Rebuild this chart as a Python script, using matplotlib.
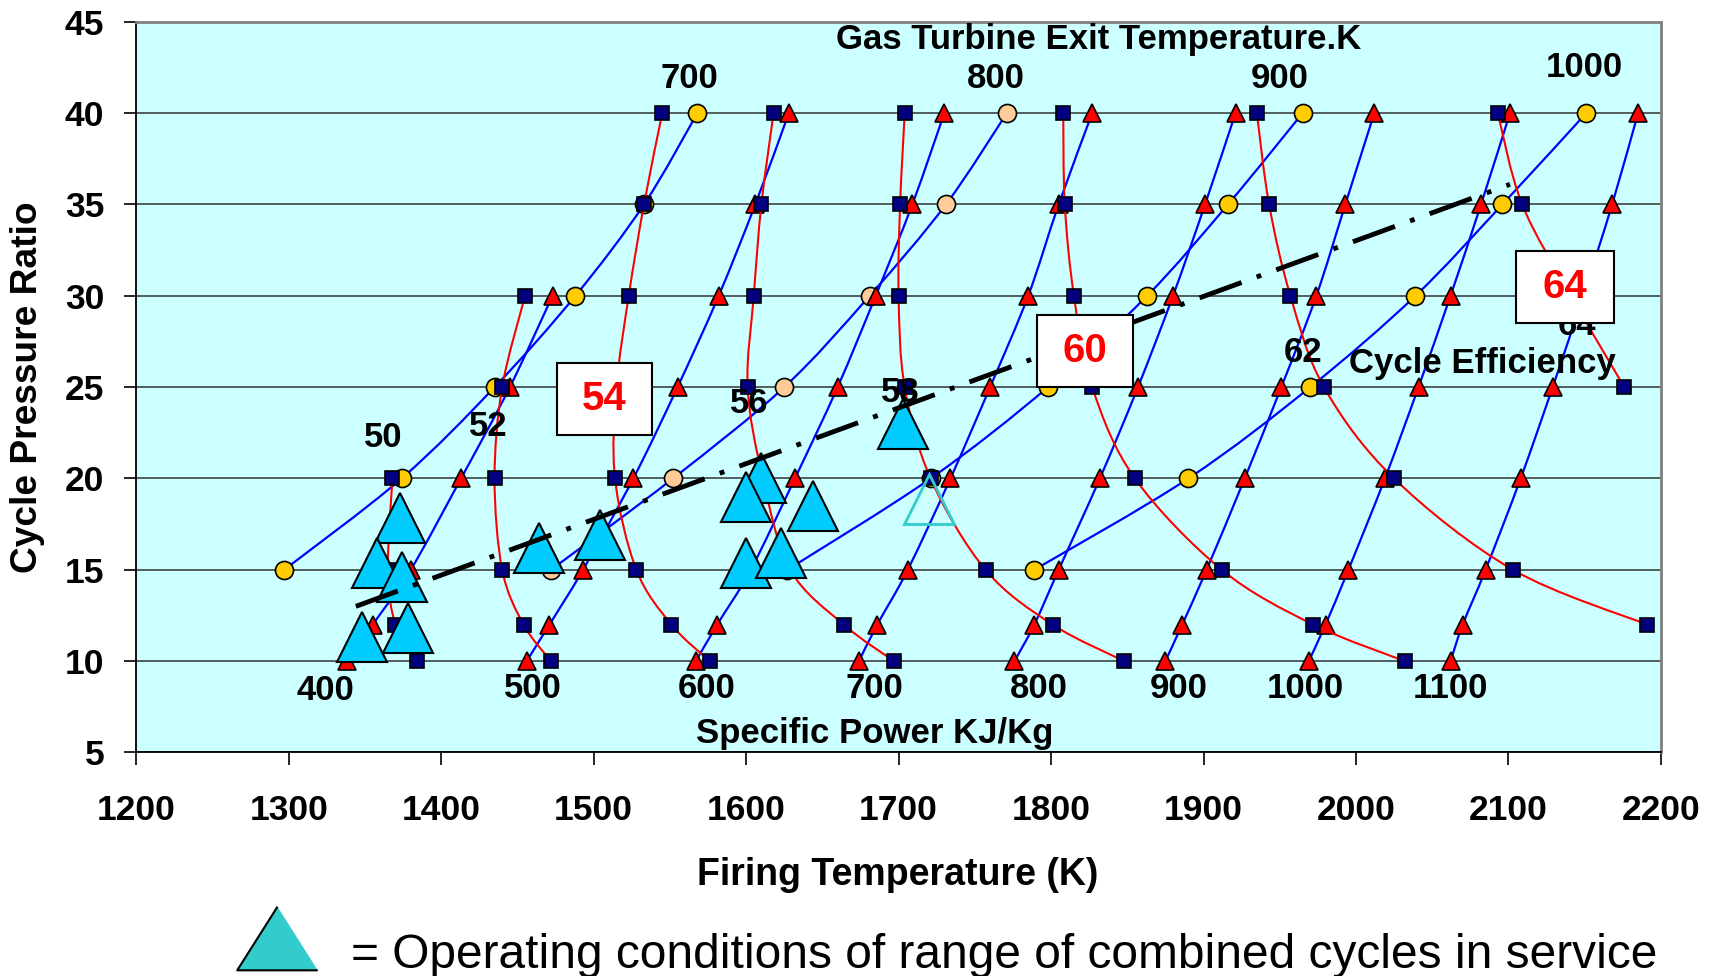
import numpy as np
import matplotlib
matplotlib.use("Agg")
import matplotlib.pyplot as plt
from matplotlib.path import Path
from matplotlib.patches import PathPatch, Rectangle
from matplotlib.lines import Line2D

plt.rcParams['font.family'] = ['Liberation Sans', 'DejaVu Sans']
plt.rcParams['font.weight'] = 'bold'

# pressure ratios used by the carpet lines
pr_all = [10, 12, 15, 20, 25, 30, 35, 40]
pr_exit = [15, 20, 25, 30, 35, 40]

# specific power lines (kJ/kg) -> firing temperature at each pressure ratio
power_lines = {
    400: [1338, 1355, 1380, 1413, 1445, 1473],
    500: [1456, 1471, 1493, 1526, 1555, 1582, 1606, 1628],
    600: [1567, 1581, 1603, 1632, 1660, 1685, 1709, 1730],
    700: [1674, 1686, 1706, 1734, 1760, 1785, 1805, 1827],
    800: [1776, 1789, 1805, 1832, 1857, 1880, 1901, 1921],
    900: [1875, 1886, 1902, 1927, 1951, 1974, 1993, 2012],
    1000: [1969, 1980, 1995, 2019, 2041, 2062, 2082, 2101],
    1100: [2062, 2070, 2085, 2108, 2129, 2149, 2168, 2185],
}

# gas turbine exit temperature lines (K)
exit_lines = {
    700: [1297, 1374, 1435, 1488, 1533, 1568],
    800: [1472, 1552, 1625, 1681, 1731, 1771],
    900: [1627, 1721, 1798, 1863, 1916, 1965],
    1000: [1789, 1890, 1970, 2039, 2096, 2151],
}
exit_colors = {700: '#FFCC00', 800: '#FFCC99', 900: '#FFCC00', 1000: '#FFCC00'}

# cycle efficiency lines (%): (pressure ratios, firing temperatures)
eff_lines = {
    50: ([10, 12, 15, 20], [1384, 1370, 1365, 1368]),
    52: ([10, 12, 15, 20, 25, 30], [1472, 1454, 1440, 1435, 1440, 1455]),
    54: (pr_all, [1576, 1551, 1528, 1514, 1515, 1523, 1533, 1545]),
    56: (pr_all, [1697, 1664, 1629, 1611, 1601, 1605, 1610, 1618]),
    58: (pr_all, [1848, 1801, 1757, 1721, 1704, 1700, 1701, 1704]),
    60: (pr_all, [2032, 1972, 1912, 1855, 1827, 1815, 1809, 1808]),
    62: ([12, 15, 20, 25, 30, 35, 40], [2191, 2103, 2025, 1979, 1957, 1943, 1935]),
    64: ([25, 30, 35, 40], [2176, 2141, 2109, 2093]),
}

# combined cycles in service
op_temp = [1373, 1358, 1374, 1348, 1378, 1464, 1504, 1610, 1600, 1644, 1600, 1623, 1703]
op_pr = [17.85, 15.4, 14.6, 11.3, 11.8, 16.2, 16.9, 20.0, 19.0, 18.5, 15.4, 15.9, 23.0]
open_temp = [1720]
open_pr = [18.9]

# trend line
trend_temp = [1344, 2101]
trend_pr = [13.0, 36.1]

# label positions (temperature, pressure ratio)
power_label_pos = {400: (1324, 7.9), 500: (1460, 8.0), 600: (1574, 8.0), 700: (1684, 8.0),
                   800: (1792, 8.0), 900: (1884, 8.0), 1000: (1967, 8.0), 1100: (2062, 8.0)}
exit_label_pos = {700: (1563, 41.4), 800: (1764, 41.4), 900: (1950, 41.4), 1000: (2150, 41.96)}
eff_label_pos = {50: (1362, 21.74), 52: (1431, 22.33), 56: (1602, 23.6), 58: (1701, 24.2),
                 62: (1965, 26.39), 64: (2145, 27.86)}
boxes = {54: (1476, 1538, 22.38, 26.34), 60: (1791, 1854, 24.99, 28.95), 64: (2105, 2169, 28.49, 32.47)}


def smooth(xs, ys):
    pts = np.column_stack([xs, ys]).astype(float)
    n = len(pts)
    verts = [pts[0]]
    codes = [Path.MOVETO]
    for i in range(n - 1):
        p0 = pts[i - 1] if i > 0 else pts[i]
        p1, p2 = pts[i], pts[i + 1]
        p3 = pts[i + 2] if i + 2 < n else pts[i + 1]
        verts += [p1 + (p2 - p0) / 6.0, p2 - (p3 - p1) / 6.0, p2]
        codes += [Path.CURVE4] * 3
    return Path(verts, codes)


fig = plt.figure(figsize=(17.1, 9.76), dpi=100)
ax = fig.add_axes([0.0797, 0.2290, 0.8916, 0.7487])
ax.set_facecolor('#CCFFFF')

for key, temps in exit_lines.items():
    ax.add_patch(PathPatch(smooth(temps, pr_exit), fc='none', ec='#0000FF', lw=1.6, zorder=3))
    ax.plot(temps, pr_exit, ls='none', marker='o', ms=13, mfc=exit_colors[key], mec='black',
            mew=1.2, zorder=3.1)

for key, temps in power_lines.items():
    prs = pr_all[:len(temps)]
    ax.add_patch(PathPatch(smooth(temps, prs), fc='none', ec='#0000FF', lw=1.6, zorder=3.2))
    ax.plot(temps, prs, ls='none', marker='^', ms=12.5, mfc='#FF0000', mec='black',
            mew=1.2, zorder=3.3)

for key, (prs, temps) in eff_lines.items():
    ax.add_patch(PathPatch(smooth(temps, prs), fc='none', ec='#FF0000', lw=1.5, zorder=3.4))
    ax.plot(temps, prs, ls='none', marker='s', ms=10, mfc='#000080', mec='black',
            mew=1.2, zorder=3.5)

for t, p in zip(op_temp, op_pr):
    ax.plot([t], [p], ls='none', marker='^', ms=36, mfc='#00CCFF', mec='black', mew=1.5, zorder=5)
ax.plot(open_temp, open_pr, ls='none', marker='^', ms=36, mfc='none', mec='#33CCCC', mew=2, zorder=5)

ax.plot(trend_temp, trend_pr, color='black', lw=3.5, dashes=(9.2, 3.3, 1.0, 3.3), zorder=6)

for key, (t, p) in power_label_pos.items():
    ax.text(t, p, str(key), ha='center', va='baseline', fontsize=25, zorder=7)
for key, (t, p) in exit_label_pos.items():
    ax.text(t, p, str(key), ha='center', va='baseline', fontsize=25, zorder=7)
for key, (t, p) in eff_label_pos.items():
    ax.text(t, p, str(key), ha='center', va='baseline', fontsize=25, zorder=7)

for key, (x0, x1, y0, y1) in boxes.items():
    ax.add_patch(Rectangle((x0, y0), x1 - x0, y1 - y0, fc='white', ec='black', lw=1.5, zorder=8))
    ax.text((x0 + x1) / 2, (y0 + y1) / 2, str(key), ha='center', va='center', fontsize=29,
            color='#FF0000', zorder=9)

ax.text(1831, 43.49, 'Gas Turbine Exit Temperature.K', ha='center', va='baseline', fontsize=25, zorder=7)
ax.text(1684, 5.5, 'Specific Power KJ/Kg', ha='center', va='baseline', fontsize=25, zorder=7)
ax.text(2083, 25.76, 'Cycle Efficiency', ha='center', va='baseline', fontsize=25, zorder=7)

ax.set_xlim(1200, 2200)
ax.set_ylim(5, 45)
ax.set_xticks(np.arange(1200, 2201, 100))
ax.set_yticks(np.arange(5, 46, 5))
ax.yaxis.grid(True, color='#333333', lw=1.1)
ax.set_axisbelow(True)
ax.tick_params(axis='both', direction='out', length=9, width=1.2, labelsize=25.5)
ax.tick_params(axis='x', pad=21)
ax.tick_params(axis='y', pad=14)
for side in ['top', 'right']:
    ax.spines[side].set_color('#808080')
    ax.spines[side].set_linewidth(2)
for side in ['left', 'bottom']:
    ax.spines[side].set_color('black')
    ax.spines[side].set_linewidth(1.3)

fig.text(0.5252, 0.0932, 'Firing Temperature (K)', ha='center', va='baseline', fontsize=27)
fig.text(0.0161, 0.6035, 'Cycle Pressure Ratio', ha='center', va='center', rotation=90, fontsize=26.7)

fig.add_artist(Line2D([0.162], [0.039], ls='none',
                      marker=[(0, 0.79), (-1, -0.79), (1, -0.79)], ms=58,
                      mfc='#33CCCC', mec='black', mew=1.5))
fig.text(0.2053, 0.0085, '= Operating conditions of range of combined cycles in service',
         ha='left', va='baseline', fontsize=34.5, fontweight='normal')

fig.savefig('out.png', dpi=100, facecolor='white')
